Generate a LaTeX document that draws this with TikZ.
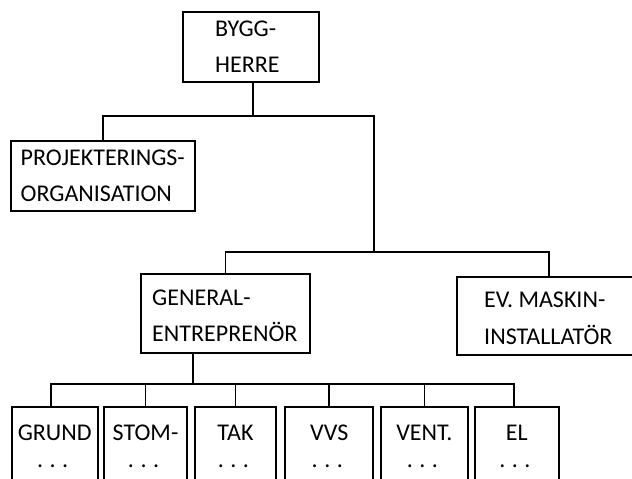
\documentclass[tikz,border=0pt]{standalone}
\usepackage{fontspec}
\setmainfont{Carlito}
\begin{document}
\begin{tikzpicture}[x=1pt,y=-1pt,
  box/.style={draw=black,line width=1.7pt,inner sep=0pt,outer sep=0pt,anchor=north west,rectangle},
  lbl/.style={inner sep=0pt,anchor=base west,font=\fontsize{24}{29}\selectfont},
  clbl/.style={inner sep=0pt,anchor=base,font=\fontsize{24}{29}\selectfont},
  con/.style={line width=1.7pt}]
\useasboundingbox (0,0) rectangle (632,479);
\clip (0,0) rectangle (632,479);
% boxes
\node[box,minimum width=136,minimum height=70] (bh) at (183,12) {};
\node[box,minimum width=184,minimum height=70] (proj) at (11,141) {};
\node[box,minimum width=169,minimum height=79] (ge) at (141,274) {};
\node[box,minimum width=184,minimum height=78] (ev) at (457,277) {};
\node[box,minimum width=86,minimum height=90] (grund) at (11.7,407) {};
\node[box,minimum width=82.5,minimum height=90] (stom) at (104.3,407) {};
\node[box,minimum width=81,minimum height=90] (tak) at (195,407) {};
\node[box,minimum width=88,minimum height=90] (vvs) at (285.3,407) {};
\node[box,minimum width=86.7,minimum height=90] (vent) at (381,407) {};
\node[box,minimum width=83.7,minimum height=90] (el) at (475,407) {};
% texts
\node[lbl] (bh1) at (215,36) {BYGG-};
\node[lbl] (bh2) at (215,72.5) {HERRE};
\node[lbl] (pr1) at (20.5,165.7) {PROJEKTERINGS-};
\node[lbl] (pr2) at (20.5,201.7) {ORGANISATION};
\node[lbl] (ge1) at (152,305) {GENERAL-};
\node[lbl] (ge2) at (152,341) {ENTREPRENÖR};
\node[lbl] (ev1) at (484,307.5) {EV. MASKIN-};
\node[lbl] (ev2) at (484,344) {INSTALLATÖR};
\foreach \n/\t in {grund/GRUND,stom/STOM-,tak/TAK,vvs/VVS,vent/VENT.,el/EL}{
  \node[clbl] (\n t) at (\n.north |- 0,440) {\t};
  \node[clbl] (\n d) at ([xshift=-2pt]\n.north |- 0,467) {.\hspace{0.27em}.\hspace{0.27em}.};
}
% connectors
\coordinate (j1) at (253,116);
\coordinate (j2) at (374,252);
\coordinate (j3) at (193,384);
\draw[con] (bh.south -| j1) -- (j1);
\draw[con] (proj.north) |- (j1) -| (j2);
\draw[con] (ge.north) |- (j2) -| (ev.north);
\draw[con] (ge.south -| j3) -- (j3);
\draw[con] ([xshift=-4pt]grund.north) |- (j3) -| ([xshift=-3pt]el.north);
\foreach \n in {stom,tak,vvs,vent}{
  \draw[con] (\n.north) -- (\n.north |- j3);
}
\end{tikzpicture}
\end{document}
